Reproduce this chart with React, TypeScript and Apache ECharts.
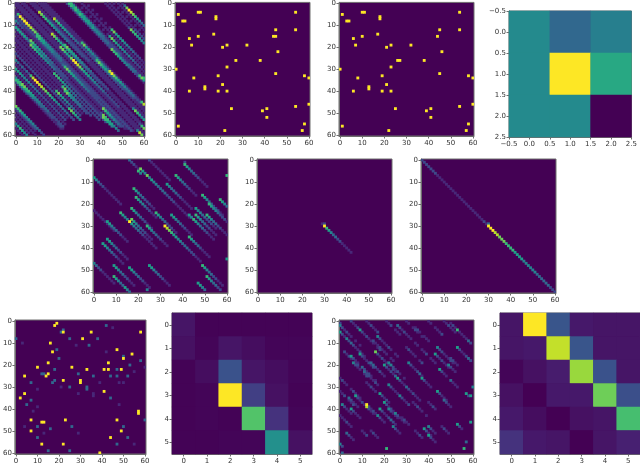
import React, { useEffect, useRef } from "react";
import * as echarts from "echarts";

type Streak = [number, number, string];

const viridis = ["#440154", "#482878", "#3e4989", "#31688e", "#26828e", "#1f9e89", "#35b779", "#6ece58", "#b5de2b", "#fde725"];

const ticks61 = Array.from({ length: 61 }, (_, i) => String(i));
const ticks3 = ["0", "1", "2"];
const ticks6 = ["0", "1", "2", "3", "4", "5"];

// Each entry: first column, first row, then the cell values read down the diagonal (0-9).
const bandsPanel: Streak[] = [
  [50, 0, "13798765433"],
  [48, 0, "1111111111111"],
  [46, 0, "101010101010101"],
  [44, 0, "11111111111122222"],
  [42, 0, "1111111111127665544"],
  [33, 0, "0101010101016755454433322211"],
  [31, 0, "111111111111111111111111111111"],
  [29, 0, "00101010101010157654544343322211"],
  [27, 0, "1111111111111111111111111111111111"],
  [26, 0, "65655554544333332222222211111111116"],
  [25, 0, "665656555545444333322223222233332675"],
  [24, 0, "2222222222222222222227665544433322211"],
  [14, 0, "11111111111111111111111111111111111111111111168"],
  [13, 0, "111111111111111111675544343333389765544333322211"],
  [12, 0, "1111111111111111111111122267655443332222222211111"],
  [11, 0, "11111118665554443332222222222222222222221111111111"],
  [9, 0, "1111111111111111111111111111111111111111111111111111"],
  [8, 0, "11111111222222222222222222211111111111111111111111111"],
  [7, 0, "111187665554443333222222211111111111111111111111476545"],
  [4, 0, "111111111111111111167655544433332222222211111111111111111"],
  [3, 0, "1111111111111187655544433333222222222111111111111111111267"],
  [1, 0, "111111111111111111117765579987655544433332222222111111111111"],
  [0, 0, "1111111111111111111111111111111111111111111111111111111111111"],
  [0, 1, "111111111111111111111111111111111111111111111111111111111487"],
  [0, 3, "11111111111111111111111111111111111111111111111111111111"],
  [0, 4, "1698998877665544443333222222222222222222222222222222222"],
  [0, 5, "11111111116655444433332222222222222222211111111111111"],
  [0, 6, "2222222222222222222222367655444433322222222222222221"],
  [0, 7, "11111111111111111111111111111111111111111765544332"],
  [0, 8, "4322111111111111111111111111111111111111111111111"],
  [0, 10, "1111111765554443332222222111111111111111276655443"],
  [0, 11, "5555543333222222222222211111111111111111276554"],
  [0, 12, "1111111766555444333222222222222222222222222"],
  [0, 14, "1111111111111111116665544433322222222222"],
  [0, 16, "111111111111111111111167554433322222"],
  [0, 17, "1111111111111111111111167544333222"],
  [0, 19, "11111111111111111111111111111111"],
  [0, 21, "1111111111111111111675544333222"],
  [0, 23, "2222222222222222222222222676544"],
  [0, 26, "4323232689988776655443333222"],
  [0, 28, "1111111111111111111111111"],
  [0, 30, "555444433333222222222222"],
  [0, 32, "111111111111111111111111"],
  [0, 34, "45677665544433332222222"],
  [0, 35, "66655544433332222211221"],
  [0, 36, "2222221111111111111111"],
  [0, 47, "76655444433322"],
  [0, 48, "2222222222"],
  [0, 49, "1111111111"],
  [0, 51, "1111111111"],
  [0, 53, "1111111"],
  [0, 55, "456544"],
  [0, 57, "1111"],
];

const spotsA: Streak[] = [
  [1, 5, "9"], [11, 4, "9"], [10, 4, "9"], [18, 6, "9"], [18, 7, "9"], [54, 4, "9"], [4, 8, "9"], [3, 8, "9"],
  [45, 12, "9"], [54, 12, "9"], [17, 14, "9"], [10, 15, "9"], [44, 15, "9"], [45, 15, "9"], [6, 16, "9"],
  [7, 19, "9"], [23, 19, "9"], [32, 19, "9"], [21, 20, "9"], [46, 22, "9"], [27, 26, "9"], [38, 26, "9"],
  [23, 29, "9"], [0, 30, "9"], [45, 32, "9"], [19, 33, "9"], [58, 33, "9"], [8, 34, "9"], [60, 34, "9"],
  [21, 37, "9"], [13, 38, "9"], [13, 39, "9"], [6, 40, "9"], [19, 40, "9"], [23, 40, "9"], [60, 46, "9"],
  [54, 47, "9"], [25, 48, "9"], [41, 48, "9"], [39, 49, "9"], [41, 52, "9"], [1, 56, "9"], [58, 55, "9"],
  [57, 58, "9"], [22, 58, "9"],
];

const spotsB: Streak[] = [
  [1, 5, "9"], [11, 4, "9"], [10, 4, "9"], [18, 6, "9"], [18, 7, "9"], [54, 4, "9"], [4, 8, "9"], [3, 8, "9"],
  [45, 12, "9"], [54, 12, "9"], [17, 14, "9"], [10, 15, "9"], [44, 15, "9"], [6, 16, "9"],
  [7, 19, "9"], [23, 19, "9"], [32, 19, "9"], [21, 20, "9"], [46, 22, "9"], [27, 26, "9"], [26, 26, "9"], [38, 26, "9"],
  [23, 29, "9"], [0, 30, "9"], [45, 32, "9"], [19, 33, "9"], [58, 33, "9"], [8, 34, "9"], [60, 34, "9"],
  [21, 37, "9"], [13, 38, "9"], [13, 39, "9"], [6, 40, "9"], [19, 40, "9"], [23, 40, "9"], [60, 46, "9"],
  [54, 47, "9"], [25, 48, "9"], [41, 48, "9"], [39, 49, "9"], [41, 52, "9"], [1, 56, "9"], [58, 55, "9"],
  [57, 58, "9"], [22, 58, "9"],
];

const decayStreaks: Streak[] = [
  [16, 0, "32211"], [25, 0, "2111111111"], [41, 2, "65433221111"], [41, 1, "2"], [20, 5, "64"], [21, 4, "7544"],
  [24, 7, "74544333322221111111"], [37, 7, "6543322111"], [60, 7, "6"], [0, 8, "5432211111111"],
  [33, 11, "543332211111"], [18, 13, "6543322211"], [19, 17, "6544322111"], [49, 16, "6543322211"],
  [57, 18, "6543221"], [52, 20, "6544322211"], [17, 22, "6543322111"], [46, 22, "5443322211"],
  [12, 24, "6544332211"], [28, 24, "6543322211"], [35, 25, "5543322111"], [43, 25, "5443322111"],
  [46, 25, "6543322111"], [51, 25, "6543322111"], [45, 27, "6543322111"], [17, 27, "7543322111"],
  [6, 28, "5543322111"], [16, 28, "9543322111111"], [24, 30, "6543322111"], [32, 30, "98765544333222111"],
  [43, 35, "6543321111"], [6, 36, "5543322111"], [4, 38, "5543322111"], [60, 45, "5"], [0, 23, "1111111111"],
  [0, 47, "4322111111"], [9, 48, "5543322111"], [25, 48, "5543322111"], [49, 48, "6543322111"],
  [16, 49, "5543322111"], [9, 53, "6543322"], [51, 53, "6543322"], [47, 56, "5543"], [14, 58, "543"], [24, 59, "4"],
];

const singleStreak: Streak[] = [[30, 29, "2"], [29, 29, "1"], [30, 30, "9654332211111"]];

const fullDiagonal: Streak[] = [
  [0, 0, "2222222111111111111111111111211"],
  [30, 30, "9998877766665555444444333333222222222222"],
  [30, 29, "3"],
];

const spotsMixed: Streak[] = [
  [19, 1, "9"], [18, 2, "9"], [22, 5, "9"], [35, 5, "9"], [58, 5, "9"], [31, 8, "9"], [16, 10, "9"], [47, 13, "9"],
  [17, 14, "9"], [54, 15, "9"], [50, 17, "9"], [15, 19, "9"], [43, 19, "9"], [10, 21, "9"], [26, 21, "9"],
  [33, 22, "9"], [41, 22, "9"], [43, 22, "9"], [49, 22, "9"], [15, 24, "9"], [14, 25, "9"], [4, 25, "9"],
  [22, 27, "9"], [30, 27, "9"], [30, 28, "9"], [41, 32, "9"], [4, 33, "9"], [2, 35, "9"], [57, 41, "9"],
  [57, 42, "9"], [7, 45, "9"], [23, 45, "9"], [47, 45, "9"], [13, 46, "9"], [12, 46, "9"], [7, 50, "9"],
  [49, 50, "9"], [44, 53, "9"], [12, 56, "9"], [22, 56, "9"], [39, 60, "9"],
  [42, 2, "3"], [22, 4, "3"], [21, 5, "3"], [0, 8, "3"], [25, 8, "3"], [38, 8, "3"], [34, 11, "3"], [19, 13, "3"],
  [50, 16, "3"], [20, 17, "3"], [53, 20, "3"], [58, 18, "3"], [18, 22, "3"], [47, 22, "3"], [12, 24, "3"],
  [13, 24, "3"], [29, 24, "3"], [44, 25, "3"], [47, 25, "3"], [52, 25, "3"], [36, 25, "3"], [18, 27, "3"],
  [17, 28, "3"], [7, 28, "3"], [25, 30, "3"], [33, 30, "3"], [33, 31, "3"], [44, 35, "3"], [7, 36, "3"],
  [5, 38, "3"], [60, 45, "3"], [10, 48, "3"], [16, 49, "3"], [26, 48, "3"], [50, 48, "3"], [10, 53, "3"],
  [52, 53, "3"], [47, 56, "3"], [15, 59, "3"], [25, 59, "3"],
  [36, 33, "1"], [36, 34, "1"], [28, 11, "1"], [42, 14, "1"], [55, 23, "1"], [48, 28, "1"], [50, 28, "1"], [21, 30, "1"],
  [10, 31, "1"], [29, 33, "1"], [8, 41, "1"], [10, 39, "1"], [48, 38, "1"], [4, 48, "1"], [13, 51, "1"], [29, 51, "1"],
  [55, 56, "1"], [45, 3, "1"], [3, 10, "1"], [60, 21, "1"], [39, 28, "1"],
];

const noisyStreaks: Streak[] = [
  [0, 1, "2"], [0, 2, "4212110101"], [0, 5, "5211011"], [5, 0, "2112111"], [9, 4, "5212111012"], [53, 4, "62211"],
  [26, 2, "3212111011"], [17, 7, "4211121011"], [3, 8, "4212111"], [15, 9, "2112111011"], [5, 10, "3211211"],
  [58, 9, "32"], [44, 12, "42211121"], [53, 12, "521121"], [16, 14, "7212111021"], [9, 15, "5211212"],
  [2, 14, "2121012"], [43, 15, "5212111"], [5, 16, "5211021"], [50, 17, "2211"], [58, 17, "32"], [6, 19, "4211012"],
  [22, 19, "44212101"], [31, 19, "4211210"], [20, 20, "5212111"], [14, 19, "3321211"], [49, 20, "4211"],
  [45, 22, "5211"], [10, 21, "3212101"], [11, 23, "3221121"], [25, 25, "352111"], [37, 26, "52111"], [36, 24, "31"],
  [22, 29, "42111"], [50, 27, "3111"], [60, 30, "4"], [30, 30, "3212111"], [44, 32, "52111"], [18, 33, "52121"],
  [57, 33, "52"], [59, 34, "5"], [7, 34, "52121"], [4, 35, "32111"], [27, 34, "42112"], [47, 36, "3211"],
  [20, 37, "52121"], [12, 38, "921211"], [12, 39, "8211"], [1, 38, "42111"], [5, 40, "52111"], [18, 40, "52112"],
  [22, 40, "42111"], [25, 42, "42111"], [17, 43, "4211"], [23, 45, "321"], [53, 47, "521"], [59, 46, "5"],
  [24, 48, "4211"], [40, 48, "4211"], [38, 49, "5211"], [40, 52, "5211"], [3, 51, "3211"], [57, 55, "3"],
  [0, 56, "42"], [21, 58, "6"], [56, 58, "6"], [1, 60, "3"], [40, 0, "1101112"], [30, 0, "11012101"], [47, 0, "112111"],
  [34, 3, "1210111"], [50, 1, "1210111"], [21, 0, "1120111"], [12, 0, "112112"], [0, 26, "1211012111"], [0, 43, "111211"],
  [0, 32, "1120112"], [30, 12, "12111012"], [37, 13, "1120111"], [12, 28, "11211"], [33, 37, "1121101"], [40, 37, "1121"],
  [28, 44, "1211"], [10, 50, "112"], [14, 50, "1211"], [34, 50, "1121"], [46, 48, "1211"],
];

const panel3x3 = [
  [4.3, 3.0, 3.9],
  [4.3, 9.0, 5.4],
  [4.3, 4.3, 0.0],
];

const panel6a = [
  [0.5, 0.05, 0.05, 0.05, 0.05, 0.05],
  [0.4, 0.1, 0.5, 0.3, 0.1, 0.1],
  [0.05, 0.3, 2.3, 0.5, 0.3, 0.1],
  [0.05, 0.1, 9.0, 1.7, 0.4, 0.05],
  [0.05, 0.1, 0.05, 6.5, 1.3, 0.1],
  [0.05, 0.05, 0.1, 0.1, 4.5, 0.4],
];

const panel6b = [
  [0.5, 9.0, 2.4, 0.6, 0.5, 0.5],
  [0.5, 0.6, 8.2, 2.4, 0.5, 0.5],
  [0.1, 0.4, 0.7, 7.6, 2.3, 0.5],
  [0.4, 0.0, 0.6, 0.6, 7.0, 2.2],
  [0.6, 0.3, 0.0, 0.4, 0.5, 6.3],
  [1.3, 0.6, 0.5, 0.0, 0.5, 0.8],
];

const fromStreaks = (list: Streak[]) => {
  const cells = new Map<string, [number, number, number]>();
  list.forEach(([x, y, digits]) => {
    digits.split("").forEach((d, i) => {
      const v = Number(d);
      const cx = x + i;
      const cy = y + i;
      if (v > 0 && cx <= 60 && cy <= 60) cells.set(cx + "," + cy, [cx, cy, v]);
    });
  });
  return [...cells.values()].sort((a, b) => a[2] - b[2]);
};

const fromMatrix = (rows: number[][]) =>
  rows.flatMap((row, y) => row.map((v, x) => [x, y, v] as [number, number, number]));

const panels = [
  { box: [12, 2, 133, 134], cats: ticks61, data: fromStreaks(bandsPanel) },
  { box: [175, 2, 135, 134], cats: ticks61, data: fromStreaks(spotsA) },
  { box: [339, 2, 135, 134], cats: ticks61, data: fromStreaks(spotsB) },
  { box: [509, 11, 127, 126], cats: ticks3, data: fromMatrix(panel3x3) },
  { box: [93, 159, 135, 134], cats: ticks61, data: fromStreaks(decayStreaks) },
  { box: [257, 159, 135, 134], cats: ticks61, data: fromStreaks(singleStreak) },
  { box: [421, 159, 135, 134], cats: ticks61, data: fromStreaks(fullDiagonal) },
  { box: [12, 320, 134, 134], cats: ticks61, data: fromStreaks(spotsMixed) },
  { box: [172, 313, 140, 141], cats: ticks6, data: fromMatrix(panel6a) },
  { box: [339, 320, 135, 134], cats: ticks61, data: fromStreaks(noisyStreaks) },
  { box: [500, 313, 140, 141], cats: ticks6, data: fromMatrix(panel6b) },
];

const FONT = "'DejaVu Sans'";
const TEXT = "#333333";
const LINE = "#6e6e6e";
const labelStyle = { color: TEXT, fontFamily: FONT, fontSize: 7, margin: 3 };
const CELL_SCALE = 1.3;

const renderCell = (params: any, api: any) => {
  const c = api.coord([api.value(0), api.value(1)]);
  const s = api.size([1, 1]);
  const w = s[0] * CELL_SCALE;
  const h = s[1] * CELL_SCALE;
  const area = params.coordSys;
  const x0 = Math.max(c[0] - w / 2, area.x);
  const y0 = Math.max(c[1] - h / 2, area.y);
  const x1 = Math.min(c[0] + w / 2, area.x + area.width);
  const y1 = Math.min(c[1] + h / 2, area.y + area.height);
  return {
    type: "rect",
    shape: { x: x0, y: y0, width: x1 - x0, height: y1 - y0 },
    style: { fill: api.visual("color") },
  };
};

const buildOption = () => {
  const grid = panels.map(({ box: [left, top, width, height] }) => ({
    left, top, width, height, show: true, backgroundColor: viridis[0], borderColor: LINE, borderWidth: 1,
  }));
  const makeAxis = (p: (typeof panels)[number], i: number, isX: boolean) => {
    const step = p.cats.length === 61 ? 9 : 0;
    const hidden = p.cats.length === 3;
    return {
      type: "category",
      gridIndex: i,
      data: p.cats,
      position: isX ? "bottom" : "left",
      inverse: !isX,
      axisLine: { show: !hidden, onZero: false, lineStyle: { color: LINE, width: 1 } },
      axisTick: { show: !hidden, alignWithLabel: true, interval: step, length: 2.5, lineStyle: { color: LINE, width: 1 } },
      axisLabel: { ...labelStyle, show: !hidden, interval: step },
      splitLine: { show: false },
      splitArea: { show: false },
    };
  };
  const halfAxis = (isX: boolean) => ({
    type: "value",
    gridIndex: 3,
    min: -0.5,
    max: 2.5,
    interval: 0.5,
    position: isX ? "bottom" : "left",
    inverse: !isX,
    axisLine: { show: true, onZero: false, lineStyle: { color: LINE, width: 1 } },
    axisTick: { show: true, length: 2.5, lineStyle: { color: LINE, width: 1 } },
    axisLabel: { ...labelStyle, formatter: (v: number) => v.toFixed(1).replace("-", "\u2212") },
    splitLine: { show: false },
  });
  return {
    animation: false,
    backgroundColor: "#ffffff",
    grid,
    xAxis: [...panels.map((p, i) => makeAxis(p, i, true)), halfAxis(true)],
    yAxis: [...panels.map((p, i) => makeAxis(p, i, false)), halfAxis(false)],
    visualMap: {
      show: false,
      min: 0,
      max: 9,
      dimension: 2,
      seriesIndex: panels.map((_, i) => i),
      inRange: { color: viridis },
    },
    series: panels.map((p, i) =>
      p.cats.length === 61
        ? {
            type: "custom",
            xAxisIndex: i,
            yAxisIndex: i,
            data: p.data,
            renderItem: renderCell,
            encode: { x: 0, y: 1 },
            silent: true,
          }
        : {
            type: "heatmap",
            xAxisIndex: i,
            yAxisIndex: i,
            data: p.data,
            progressive: 0,
            emphasis: { disabled: true },
            silent: true,
          },
    ),
  };
};

export default function App() {
  const ref = useRef<HTMLDivElement>(null);
  useEffect(() => {
    const chart = echarts.init(ref.current!, null, { renderer: "svg" });
    chart.setOption(buildOption() as any);
    return () => chart.dispose();
  }, []);
  return (
    <div
      ref={ref}
      style={{ position: "fixed", left: 0, top: 0, width: 640, height: 465, filter: "blur(0.4px)" }}
    />
  );
}
